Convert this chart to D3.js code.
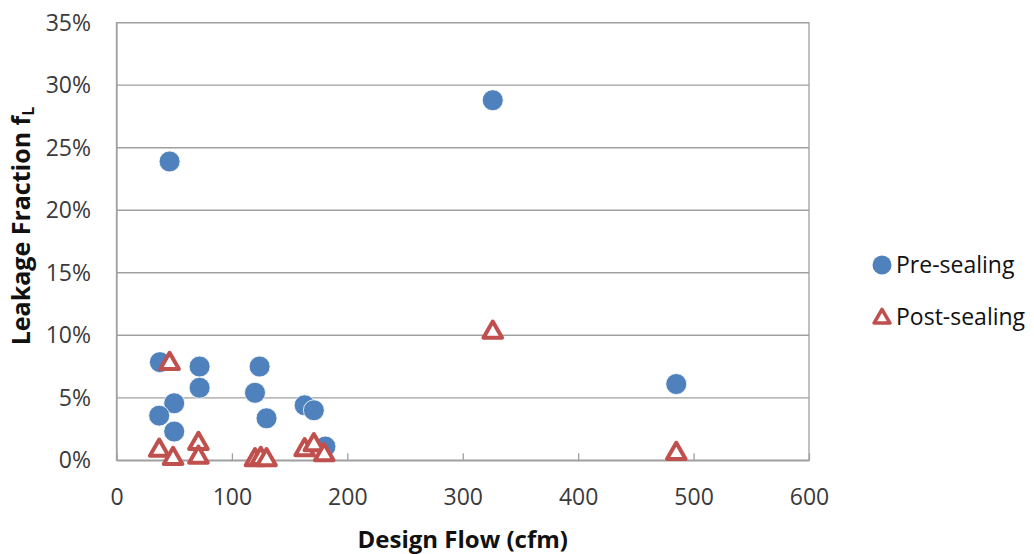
<!DOCTYPE html>
<html><head><meta charset="utf-8">
<script src="https://cdn.jsdelivr.net/npm/d3@7"></script>
<style>body{margin:0;background:#fff}svg{display:block}</style>
</head><body>
<svg id="c" width="1034" height="554"></svg>
<script>
const preFlow = [46, 326, 485, 37.6, 72, 72, 50, 37, 50, 124, 120, 130, 163, 171, 181];
const preLeak = [0.239, 0.288, 0.061, 0.0785, 0.075, 0.058, 0.0456, 0.0357, 0.023, 0.075, 0.054, 0.0336, 0.044, 0.040, 0.011];
const postFlow = [46, 326, 485, 37, 49, 71, 71, 120, 125, 130, 163, 171, 180];
const postLeak = [0.079, 0.104, 0.007, 0.0096, 0.003, 0.015, 0.004, 0.002, 0.003, 0.002, 0.010, 0.014, 0.006];
const xTicks = [0, 100, 200, 300, 400, 500, 600];
const yTicks = [0, 0.05, 0.10, 0.15, 0.20, 0.25, 0.30, 0.35];
const seriesNames = ["Pre-sealing", "Post-sealing"];
const colors = ["#4F81BD", "#C0504D"];

const svg = d3.select("#c");
const L = 116.5, R = 809, T = 22.7, B = 460.3;
const x = d3.scaleLinear().domain([0, 600]).range([L, R]);
const y = d3.scaleLinear().domain([0, 0.35]).range([B, T]);
const font = "'Open Sans', sans-serif";
const grid = "#A0A0A0";

// gridlines
svg.append("g").selectAll("line").data(yTicks).join("line")
  .attr("x1", L).attr("x2", R).attr("y1", d => y(d)).attr("y2", d => y(d))
  .attr("stroke", grid).attr("stroke-width", 1.3);
// border
svg.append("rect").attr("x", L).attr("y", T).attr("width", R - L).attr("height", B - T)
  .attr("fill", "none").attr("stroke", grid).attr("stroke-width", 1.3);

// x axis
const xAxis = svg.append("g").attr("transform", `translate(0,${B})`)
  .call(d3.axisBottom(x).tickValues(xTicks).tickSizeInner(-7).tickSizeOuter(0).tickPadding(28));
xAxis.select(".domain").attr("stroke", grid).attr("stroke-width", 1.3);
xAxis.selectAll(".tick line").attr("stroke", grid).attr("stroke-width", 1.3);
xAxis.selectAll("text").attr("font-family", font).attr("font-size", 23).attr("fill", "#3a3a3a");

// y axis
const yAxis = svg.append("g").attr("transform", `translate(${L},0)`)
  .call(d3.axisLeft(y).tickValues(yTicks).tickFormat(d3.format(".0%")).tickSize(0).tickPadding(25.5));
yAxis.select(".domain").attr("stroke", grid).attr("stroke-width", 1.3);
yAxis.selectAll("text").attr("font-family", font).attr("font-size", 23).attr("fill", "#3a3a3a");

// titles
svg.append("text").attr("x", (L + R) / 2).attr("y", 548).attr("text-anchor", "middle")
  .attr("font-family", font).attr("font-weight", "bold").attr("font-size", 24).attr("fill", "#111")
  .text("Design Flow (cfm)");
const yt = svg.append("text").attr("transform", "translate(29.5,226) rotate(-90)").attr("text-anchor", "middle")
  .attr("font-family", font).attr("font-weight", "bold").attr("font-size", 25).attr("fill", "#111");
yt.append("tspan").text("Leakage Fraction f");
yt.append("tspan").attr("font-size", 16).attr("dy", 4).text("L");

// markers
const tri = d3.symbol().type(d3.symbolTriangle).size(150);
const pre = preFlow.map((f, i) => ({f, v: preLeak[i]}));
const post = postFlow.map((f, i) => ({f, v: postLeak[i]}));
svg.append("g").selectAll("circle").data(pre).join("circle")
  .attr("cx", d => x(d.f)).attr("cy", d => y(d.v)).attr("r", 10.5)
  .attr("fill", colors[0]).attr("stroke", "#fff").attr("stroke-width", 0.8);
svg.append("g").selectAll("path").data(post).join("path")
  .attr("d", tri).attr("transform", d => `translate(${x(d.f)},${y(d.v) + 2})`)
  .attr("fill", "#fff").attr("stroke", colors[1]).attr("stroke-width", 4).attr("stroke-linejoin", "round");

// legend
const lg = svg.append("g");
lg.append("circle").attr("cx", 882).attr("cy", 265).attr("r", 9.5).attr("fill", colors[0]);
lg.append("path").attr("d", d3.symbol().type(d3.symbolTriangle).size(110))
  .attr("transform", "translate(882,318.5)").attr("fill", "#fff").attr("stroke", colors[1]).attr("stroke-width", 3.5).attr("stroke-linejoin", "round");
lg.selectAll("text.l").data(seriesNames).join("text").attr("class", "l")
  .attr("x", 896).attr("y", (d, i) => 273 + i * 52)
  .attr("font-family", font).attr("font-size", 23).attr("fill", "#111").text(d => d);
</script>
</body></html>
